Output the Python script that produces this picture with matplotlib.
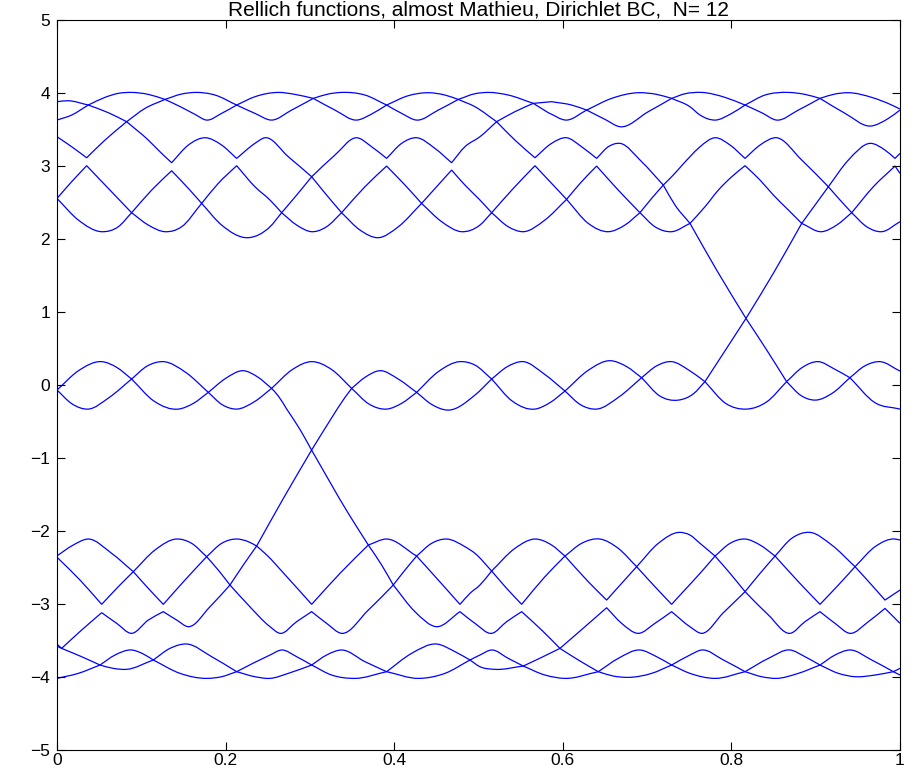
import matplotlib
matplotlib.use("Agg")
import matplotlib.pyplot as plt
from matplotlib.path import Path
from matplotlib.patches import PathPatch

plt.rcParams['font.family'] = ['Liberation Sans', 'DejaVu Sans']

title = "Rellich functions, almost Mathieu, Dirichlet BC,  N= 12"
x_ticks = [0, 0.2, 0.4, 0.6, 0.8, 1]
x_tick_labels = ["0", "0.2", "0.4", "0.6", "0.8", "1"]
y_ticks = [-5, -4, -3, -2, -1, 0, 1, 2, 3, 4, 5]

# eigenvalue levels (sorted, highest first) as (x, value)
lev1 = [(0.0,3.881),(0.0134,3.894),(0.0371,3.835),(0.0569,3.940),(0.0727,3.995),(0.0885,4.008),(0.1083,3.981),(0.1281,3.912),(0.1479,3.986),(0.1637,4.008),(0.1874,3.972),(0.2131,3.835),(0.2348,3.949),(0.2625,4.008),(0.2823,3.981),(0.3040,3.926),(0.3218,3.986),(0.3376,4.008),(0.3653,3.972),(0.3910,3.835),(0.4167,3.963),(0.4405,4.004),(0.4602,3.972),(0.4760,3.912),(0.4958,3.990),(0.5116,4.008),(0.5353,3.972),(0.5650,3.858),(0.5867,3.881),(0.6105,3.835),(0.6283,3.766),(0.6579,3.926),(0.6896,4.004),(0.7113,3.981),(0.7291,3.926),(0.7450,3.990),(0.7648,4.008),(0.7924,3.940),(0.8162,3.835),(0.8399,3.972),(0.8676,4.008),(0.8873,3.981),(0.9051,3.926),(0.9229,3.986),(0.9388,4.004),(0.9664,3.940),(0.9902,3.835),(1.0,3.78)]
lev2 = [(0.0,3.629),(0.0174,3.698),(0.0371,3.835),(0.0609,3.730),(0.0826,3.607),(0.1044,3.789),(0.1281,3.912),(0.1479,3.803),(0.1637,3.707),(0.1775,3.629),(0.1953,3.721),(0.2131,3.835),(0.2348,3.721),(0.2546,3.629),(0.2783,3.766),(0.3040,3.926),(0.3297,3.766),(0.3554,3.629),(0.3732,3.712),(0.3910,3.835),(0.4088,3.721),(0.4266,3.629),(0.4523,3.766),(0.4760,3.912),(0.4958,3.812),(0.5215,3.607),(0.5432,3.744),(0.5650,3.858),(0.5828,3.730),(0.6045,3.629),(0.6283,3.766),(0.6500,3.639),(0.6678,3.538),(0.7014,3.744),(0.7291,3.926),(0.7508,3.812),(0.7628,3.698),(0.7806,3.629),(0.8004,3.721),(0.8162,3.835),(0.8359,3.730),(0.8537,3.629),(0.8794,3.766),(0.9051,3.926),(0.9348,3.721),(0.9645,3.547),(0.9862,3.652),(1.0,3.766)]
lev3 = [(0.0,3.401),(0.0174,3.264),(0.0352,3.113),(0.0569,3.355),(0.0826,3.607),(0.1083,3.355),(0.1241,3.173),(0.1360,3.045),(0.1558,3.287),(0.1755,3.387),(0.1953,3.287),(0.2131,3.104),(0.2348,3.310),(0.2467,3.387),(0.2744,3.127),(0.3021,2.853),(0.3297,3.150),(0.3554,3.387),(0.3732,3.264),(0.3910,3.104),(0.4088,3.310),(0.4266,3.387),(0.4483,3.241),(0.4681,3.045),(0.4839,3.264),(0.5017,3.401),(0.5215,3.607),(0.5432,3.355),(0.5670,3.113),(0.5867,3.310),(0.6045,3.387),(0.6223,3.264),(0.6401,3.104),(0.6540,3.264),(0.6678,3.310),(0.6935,3.059),(0.7192,2.739),(0.7291,2.853),(0.7508,3.127),(0.7628,3.264),(0.7806,3.387),(0.7984,3.287),(0.8162,3.104),(0.8340,3.287),(0.8537,3.387),(0.8834,3.082),(0.9150,2.716),(0.9388,3.082),(0.9645,3.310),(0.9822,3.218),(0.9941,3.104),(1.0,3.173)]
lev4 = [(0.0,2.556),(0.0174,2.785),(0.0352,3.004),(0.0609,2.693),(0.0885,2.360),(0.1123,2.670),(0.1360,2.935),(0.1558,2.693),(0.1716,2.488),(0.1913,2.762),(0.2131,3.004),(0.2348,2.716),(0.2526,2.534),(0.2665,2.360),(0.2843,2.602),(0.3021,2.853),(0.3198,2.602),(0.3376,2.360),(0.3653,2.716),(0.3910,2.999),(0.4128,2.739),(0.4325,2.488),(0.4503,2.716),(0.4681,2.944),(0.4839,2.739),(0.5017,2.534),(0.5156,2.360),(0.5413,2.693),(0.5670,3.004),(0.5867,2.762),(0.6045,2.543),(0.6223,2.785),(0.6401,2.999),(0.6658,2.670),(0.6915,2.360),(0.7054,2.556),(0.7192,2.739),(0.7331,2.465),(0.7509,2.214),(0.7687,2.442),(0.7845,2.670),(0.8004,2.853),(0.8162,3.004),(0.8340,2.807),(0.8498,2.602),(0.8676,2.397),(0.8834,2.214),(0.8992,2.465),(0.9150,2.716),(0.9289,2.534),(0.9427,2.360),(0.9684,2.716),(0.9941,2.999),(1.0,2.899)]
lev5 = [(0.0,2.556),(0.0253,2.260),(0.0530,2.100),(0.0727,2.168),(0.0885,2.360),(0.1083,2.191),(0.1281,2.100),(0.1479,2.168),(0.1716,2.488),(0.1953,2.191),(0.2269,2.018),(0.2527,2.168),(0.2665,2.360),(0.2843,2.191),(0.3021,2.100),(0.3198,2.168),(0.3376,2.360),(0.3594,2.123),(0.3811,2.018),(0.4049,2.168),(0.4325,2.488),(0.4563,2.237),(0.4800,2.100),(0.5017,2.191),(0.5156,2.360),(0.5353,2.168),(0.5531,2.100),(0.5788,2.260),(0.6045,2.543),(0.6302,2.214),(0.6540,2.100),(0.6737,2.191),(0.6915,2.360),(0.7093,2.168),(0.7291,2.100),(0.7509,2.214),(0.7825,1.574),(0.8173,0.912),(0.8497,1.529),(0.8834,2.214),(0.9071,2.100),(0.9249,2.191),(0.9427,2.360),(0.9605,2.168),(0.9783,2.100),(1.0,2.237)]
lev6 = [(0.0,-0.069),(0.026,0.20),(0.053,0.320),(0.071,0.24),(0.0885,0.082),(0.107,0.26),(0.1261,0.320),(0.153,0.17),(0.1795,-0.101),(0.200,0.09),(0.2210,0.196),(0.238,0.11),(0.2546,-0.046),(0.279,0.21),(0.3021,0.320),(0.326,0.21),(0.3495,-0.046),(0.366,0.11),(0.3831,0.196),(0.405,0.08),(0.4266,-0.101),(0.452,0.18),(0.4780,0.320),(0.4958,0.273),(0.5156,0.082),(0.534,0.25),(0.5531,0.320),(0.578,0.15),(0.6026,-0.083),(0.630,0.20),(0.6560,0.333),(0.676,0.25),(0.6935,0.100),(0.711,0.26),(0.7291,0.320),(0.750,0.20),(0.7686,0.046),(0.7904,0.433),(0.8173,0.912),(0.8419,0.479),(0.8655,0.046),(0.884,0.24),(0.9031,0.320),(0.922,0.22),(0.9406,0.100),(0.958,0.26),(0.9762,0.320),(1.0,0.19)]
lev7 = [(0.0,-0.069),(0.018,-0.26),(0.0371,-0.330),(0.062,-0.17),(0.0885,0.082),(0.115,-0.22),(0.1439,-0.330),(0.162,-0.25),(0.1795,-0.101),(0.196,-0.27),(0.2131,-0.330),(0.234,-0.23),(0.2546,-0.046),(0.2625,-0.150),(0.2725,-0.330),(0.2883,-0.610),(0.3020,-0.892),(0.3258,-0.450),(0.3416,-0.170),(0.3496,-0.047),(0.370,-0.26),(0.3910,-0.330),(0.409,-0.25),(0.4266,-0.101),(0.445,-0.27),(0.4642,-0.344),(0.4958,-0.138),(0.5156,0.082),(0.540,-0.22),(0.5670,-0.330),(0.585,-0.24),(0.6026,-0.083),(0.621,-0.27),(0.6401,-0.330),(0.667,-0.16),(0.6935,0.100),(0.715,-0.15),(0.7370,-0.207),(0.755,-0.12),(0.7686,0.046),(0.793,-0.25),(0.8181,-0.330),(0.842,-0.23),(0.8655,0.046),(0.882,-0.14),(0.8991,-0.207),(0.920,-0.11),(0.9406,0.100),(0.970,-0.24),(1.0,-0.330)]
lev8 = [(0.0,-2.34),(0.0193,-2.192),(0.0371,-2.110),(0.0648,-2.306),(0.0905,-2.557),(0.1162,-2.261),(0.1419,-2.110),(0.1597,-2.169),(0.1775,-2.352),(0.1953,-2.169),(0.2131,-2.110),(0.2269,-2.146),(0.2368,-2.206),(0.2685,-1.554),(0.3020,-0.892),(0.3456,-1.759),(0.3693,-2.192),(0.3910,-2.110),(0.4266,-2.343),(0.4444,-2.169),(0.4622,-2.110),(0.4839,-2.215),(0.4958,-2.306),(0.5156,-2.548),(0.5432,-2.238),(0.5670,-2.110),(0.5867,-2.192),(0.6026,-2.343),(0.6223,-2.169),(0.6441,-2.110),(0.6658,-2.238),(0.6876,-2.489),(0.7133,-2.169),(0.7390,-2.019),(0.7508,-2.055),(0.7628,-2.169),(0.7806,-2.343),(0.7984,-2.169),(0.8162,-2.110),(0.8340,-2.192),(0.8518,-2.343),(0.8715,-2.101),(0.8933,-2.019),(0.9190,-2.192),(0.9467,-2.489),(0.9704,-2.215),(0.9941,-2.110),(1.0,-2.124)]
lev9 = [(0.0,-2.36),(0.0273,-2.672),(0.0530,-3.005),(0.0727,-2.763),(0.0905,-2.557),(0.1083,-2.786),(0.1261,-3.005),(0.1518,-2.672),(0.1775,-2.352),(0.1913,-2.535),(0.2052,-2.740),(0.2210,-2.466),(0.2368,-2.206),(0.2467,-2.306),(0.2744,-2.649),(0.3021,-3.005),(0.3357,-2.580),(0.3693,-2.192),(0.3851,-2.466),(0.3989,-2.740),(0.4128,-2.535),(0.4266,-2.343),(0.4523,-2.672),(0.4780,-3.005),(0.4899,-2.854),(0.5017,-2.740),(0.5156,-2.548),(0.5334,-2.786),(0.5512,-3.005),(0.5788,-2.626),(0.6026,-2.343),(0.6302,-2.694),(0.6520,-2.946),(0.6698,-2.717),(0.6876,-2.489),(0.7093,-2.763),(0.7291,-3.005),(0.7410,-2.854),(0.7628,-2.580),(0.7806,-2.343),(0.7984,-2.580),(0.8162,-2.831),(0.8340,-2.580),(0.8518,-2.343),(0.8794,-2.694),(0.9051,-3.005),(0.9269,-2.740),(0.9467,-2.489),(0.9664,-2.740),(0.9822,-2.946),(1.0,-2.809)]
lev10 = [(0.0,-3.55),(0.0055,-3.608),(0.0292,-3.357),(0.0530,-3.119),(0.0708,-3.265),(0.0885,-3.402),(0.1083,-3.220),(0.1261,-3.105),(0.1419,-3.219),(0.1558,-3.311),(0.1815,-3.037),(0.2052,-2.740),(0.2269,-3.014),(0.2527,-3.311),(0.2645,-3.402),(0.2843,-3.242),(0.3021,-3.105),(0.3198,-3.265),(0.3376,-3.402),(0.3693,-3.083),(0.3989,-2.740),(0.4246,-3.105),(0.4503,-3.311),(0.4780,-3.105),(0.4958,-3.265),(0.5156,-3.402),(0.5334,-3.242),(0.5512,-3.105),(0.5749,-3.357),(0.5966,-3.608),(0.6263,-3.311),(0.6520,-3.051),(0.6698,-3.265),(0.6896,-3.402),(0.7093,-3.265),(0.7291,-3.105),(0.7508,-3.311),(0.7648,-3.402),(0.7905,-3.119),(0.8162,-2.831),(0.8439,-3.151),(0.8696,-3.402),(0.8873,-3.242),(0.9051,-3.105),(0.9229,-3.265),(0.9407,-3.402),(0.9625,-3.242),(0.9822,-3.060),(1.0,-3.265)]
lev11 = [(0.0,-3.58),(0.0055,-3.608),(0.0292,-3.722),(0.0510,-3.836),(0.0688,-3.699),(0.0885,-3.630),(0.1024,-3.685),(0.1142,-3.767),(0.1340,-3.608),(0.1538,-3.548),(0.1835,-3.722),(0.2131,-3.927),(0.2527,-3.699),(0.2665,-3.630),(0.2843,-3.722),(0.3021,-3.836),(0.3198,-3.699),(0.3376,-3.630),(0.3653,-3.790),(0.3910,-3.927),(0.4207,-3.676),(0.4503,-3.548),(0.4721,-3.653),(0.4899,-3.767),(0.5017,-3.699),(0.5156,-3.630),(0.5353,-3.745),(0.5531,-3.850),(0.5749,-3.731),(0.5966,-3.608),(0.6184,-3.767),(0.6421,-3.927),(0.6658,-3.745),(0.6915,-3.630),(0.7113,-3.722),(0.7291,-3.836),(0.7508,-3.699),(0.7648,-3.630),(0.7905,-3.767),(0.8162,-3.927),(0.8439,-3.745),(0.8696,-3.630),(0.8873,-3.722),(0.9051,-3.836),(0.9229,-3.699),(0.9407,-3.630),(0.9664,-3.767),(0.9921,-3.927),(1.0,-3.882)]
lev12 = [(0.0,-4.019),(0.0253,-3.950),(0.0510,-3.836),(0.0668,-3.882),(0.0826,-3.895),(0.1142,-3.767),(0.1459,-3.950),(0.1775,-4.019),(0.1953,-3.996),(0.2131,-3.927),(0.2348,-3.996),(0.2527,-4.019),(0.2744,-3.950),(0.3021,-3.836),(0.3258,-3.973),(0.3535,-4.019),(0.3910,-3.927),(0.4286,-4.019),(0.4602,-3.950),(0.4899,-3.767),(0.5017,-3.859),(0.5195,-3.895),(0.5531,-3.850),(0.5788,-3.973),(0.6026,-4.019),(0.6421,-3.927),(0.6599,-3.987),(0.6777,-4.005),(0.7054,-3.950),(0.7291,-3.836),(0.7508,-3.950),(0.7806,-4.019),(0.8162,-3.927),(0.8359,-3.996),(0.8537,-4.019),(0.8794,-3.950),(0.9051,-3.836),(0.9269,-3.950),(0.9467,-3.996),(0.9704,-3.973),(0.9921,-3.927),(1.0,-3.973)]

levels = [lev1, lev2, lev3, lev4, lev5, lev6, lev7, lev8, lev9, lev10, lev11, lev12]


def corner_flags(k):
    """A point is drawn as a sharp corner where it meets (or nearly meets) a neighbouring level."""
    flags = []
    for (x, y) in levels[k]:
        c = False
        for j in (k - 1, k + 1):
            if 0 <= j < len(levels):
                for (xx, yy) in levels[j]:
                    if abs(xx - x) < 0.004 and abs(yy - y) < 0.16:
                        c = True
        flags.append(c)
    return flags


def smooth_path(pts, flags):
    """Cubic Hermite rendering through the read points, sharp at corners."""
    n = len(pts)
    xs = [p[0] for p in pts]
    ys = [p[1] for p in pts]
    h = [xs[i + 1] - xs[i] for i in range(n - 1)]
    d = [(ys[i + 1] - ys[i]) / h[i] for i in range(n - 1)]
    left = [0.0] * n
    right = [0.0] * n
    for i in range(n):
        if i == 0:
            left[i] = right[i] = d[0]
        elif i == n - 1:
            left[i] = right[i] = d[-1]
        elif flags[i]:
            left[i] = d[i - 1]
            right[i] = d[i]
        else:
            m = (h[i] * d[i - 1] + h[i - 1] * d[i]) / (h[i - 1] + h[i])
            left[i] = right[i] = m
    verts = [(xs[0], ys[0])]
    codes = [Path.MOVETO]
    for i in range(n - 1):
        hh = h[i] / 3.0
        verts.append((xs[i] + hh, ys[i] + right[i] * hh))
        verts.append((xs[i + 1] - hh, ys[i + 1] - left[i + 1] * hh))
        verts.append((xs[i + 1], ys[i + 1]))
        codes += [Path.CURVE4] * 3
    return Path(verts, codes)


fig = plt.figure(figsize=(9.17, 7.68), dpi=100)
ax = fig.add_axes([57/917, 18/768, 843/917, 730/768])
for k, lev in enumerate(levels):
    path = smooth_path(lev, corner_flags(k))
    ax.add_patch(PathPatch(path, fill=False, edgecolor="#0000ff", lw=0.9))

ax.set_xlim(0, 1)
ax.set_ylim(-5, 5)
ax.set_xticks(x_ticks)
ax.set_xticklabels(x_tick_labels)
ax.set_yticks(y_ticks)
ax.tick_params(direction='in', top=True, right=True, length=6, labelsize=12.5)
ax.tick_params(axis='x', pad=2)
ax.tick_params(axis='y', pad=5)
for s in ax.spines.values():
    s.set_linewidth(0.8)
ax.set_title(title, fontsize=15, pad=3)
fig.savefig("out.png", dpi=100)
